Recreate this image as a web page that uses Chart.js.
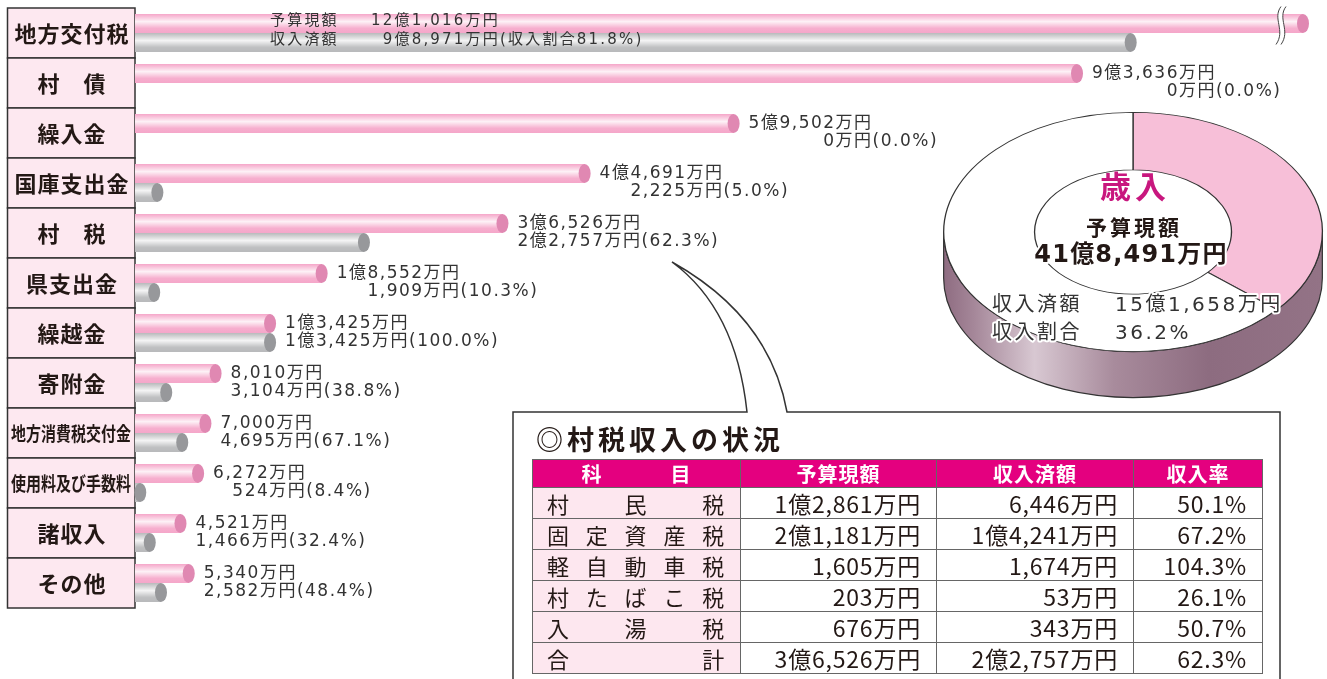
<!DOCTYPE html>
<html lang="ja">
<head>
<meta charset="utf-8">
<title>歳入</title>
<script src="https://cdn.jsdelivr.net/npm/chart.js@4.4.1/dist/chart.umd.min.js"></script>
<style>
  html, body { margin: 0; padding: 0; background: #fff; }
  body { width: 1327px; height: 679px; position: relative; overflow: hidden; font-family: "Noto Sans CJK JP", sans-serif; color: #333; }
  #bars { position: absolute; left: 0; top: 0; }
  #pie { position: absolute; left: 933px; top: 32px; }
  #frame { position: absolute; left: 0; top: 0; }
  #title { position: absolute; left: 536px; top: 419px; font-size: 27px; font-weight: bold; letter-spacing: 4px; color: #231815; }
  #tax { position: absolute; left: 532px; top: 459px; border-collapse: collapse; table-layout: fixed; font-size: 23px; }
  #tax th, #tax td { border: 1px solid #666; padding: 0 15px 0 0; height: 30px; line-height: 30px; text-align: right; white-space: nowrap; letter-spacing: 0.8px; }
  #tax th { background: #e4007f; color: #fff; font-weight: bold; text-align: center; height: 27px; line-height: 27px; padding: 0; font-size: 20px; letter-spacing: 1px; }
  #tax td { background: #fff; color: #231815; }
  #tax td.item { background: #fde7ef; text-align: left; padding: 0 0 0 14px; font-size: 22px; }
  #tax .spread { display: inline-block; width: 178px; text-align: justify; text-align-last: justify; }
  #tax th .spread { width: 110px; }
</style>
</head>
<body>
<canvas id="bars" width="1327" height="679"></canvas>
<svg id="frame" width="1327" height="679">
  <path d="M513,690 L513,412 L747,412 Q736,309 672,262 Q770,317 787,412 L1280,412 L1280,690"
        fill="none" stroke="#333" stroke-width="1.5"/>
</svg>
<canvas id="pie" width="400" height="400"></canvas>
<div id="title">◎村税収入の状況</div>
<table id="tax">
  <colgroup><col style="width:208px"><col style="width:196px"><col style="width:197px"><col style="width:129px"></colgroup>
  <thead></thead>
  <tbody></tbody>
</table>
<script>
// 歳入 (単位: 万円)
const categories = ['地方交付税', '村　債', '繰入金', '国庫支出金', '村　税', '県支出金', '繰越金', '寄附金', '地方消費税交付金', '使用料及び手数料', '諸収入', 'その他'];
const budget = [121016, 93636, 59502, 44691, 36526, 18552, 13425, 8010, 7000, 6272, 4521, 5340];
const received = [98971, 0, 0, 2225, 22757, 1909, 13425, 3104, 4695, 524, 1466, 2582];
const rates = ['81.8', '0.0', '0.0', '5.0', '62.3', '10.3', '100.0', '38.8', '67.1', '8.4', '32.4', '48.4'];
const xMax = 116100;

// 円グラフ
const totalBudget = 418491;
const totalReceived = 151658;
const totalRate = '36.2';

// 村税収入の状況
const taxHeaders = ['科目', '予算現額', '収入済額', '収入率'];
const taxItems = ['村民税', '固定資産税', '軽自動車税', '村たばこ税', '入湯税', '合計'];
const taxBudget = [12861, 21181, 1605, 203, 676, 36526];
const taxReceived = [6446, 14241, 1674, 53, 343, 22757];
const taxRates = ['50.1', '67.2', '104.3', '26.1', '50.7', '62.3'];

const fmtMan = v => {
    const oku = Math.floor(v / 10000);
    const man = v % 10000;
    if (oku > 0) return oku + '億' + (man > 0 ? man.toLocaleString('en-US') : '') + '万円';
    return man.toLocaleString('en-US') + '万円';
};

const numFont = '"DejaVu Sans", "Noto Sans CJK JP", sans-serif';

const barDeco = {
    id: 'barDeco',
    beforeDatasetsDraw(chart) {
        const ctx = chart.ctx;
        const ys = chart.scales.y;
        ctx.save();
        categories.forEach((c, i) => {
            const yc = ys.getPixelForValue(i);
            ctx.fillStyle = '#fde8f0';
            ctx.strokeStyle = '#333';
            ctx.lineWidth = 1.5;
            ctx.fillRect(7.5, yc - 25, 127.5, 50);
            ctx.strokeRect(7.5, yc - 25, 127.5, 50);
            ctx.fillStyle = '#231815';
            ctx.textAlign = 'center';
            ctx.textBaseline = 'middle';
            if (c.length > 6) {
                ctx.font = 'bold 19px "Noto Sans CJK JP"';
                ctx.letterSpacing = '0px';
                ctx.fillText(c, 71, yc + 1, 120);
            } else {
                ctx.font = 'bold 22px "Noto Sans CJK JP"';
                ctx.letterSpacing = '1px';
                ctx.fillText(c, 72, yc + 1);
            }
        });
        ctx.restore();
    },
    afterDatasetsDraw(chart) {
        const ctx = chart.ctx;
        const area = chart.chartArea;
        const caps = ['#e088b2', '#97989b'];
        ctx.save();
        [0, 1].forEach(d => {
            chart.getDatasetMeta(d).data.forEach((el, i) => {
                const v = chart.data.datasets[d].data[i];
                if (!v) return;
                const h = el.height;
                const top = el.y - h / 2;
                const xe = Math.min(el.x, area.right);
                const g = ctx.createLinearGradient(0, top, 0, top + h);
                g.addColorStop(0, 'rgba(255,255,255,0)');
                g.addColorStop(0.4, 'rgba(255,255,255,0.85)');
                g.addColorStop(0.75, 'rgba(255,255,255,0.1)');
                g.addColorStop(1, 'rgba(255,255,255,0)');
                ctx.fillStyle = g;
                ctx.fillRect(el.base, top, xe - el.base, h);
                ctx.fillStyle = caps[d];
                ctx.beginPath();
                ctx.ellipse(xe, el.y, 6, h / 2, 0, 0, Math.PI * 2);
                ctx.fill();
            });
        });

        // break mark on the clipped bar
        const p0 = chart.getDatasetMeta(0).data[0];
        if (budget[0] > xMax) {
            const bx = area.right - 25;
            const y0 = p0.y - 17, y1 = p0.y + 21;
            const wave = (dx) => {
                ctx.moveTo(bx + dx + 3, y0);
                ctx.bezierCurveTo(bx + dx - 6, y0 + 12, bx + dx + 8, y1 - 14, bx + dx - 2, y1);
            };
            ctx.beginPath();
            ctx.moveTo(bx + 3, y0);
            ctx.bezierCurveTo(bx - 6, y0 + 12, bx + 8, y1 - 14, bx - 2, y1);
            ctx.lineTo(bx + 3, y1);
            ctx.bezierCurveTo(bx + 13, y1 - 14, bx - 1, y0 + 12, bx + 8, y0);
            ctx.closePath();
            ctx.fillStyle = '#fff';
            ctx.fill();
            ctx.beginPath();
            wave(0);
            wave(5);
            ctx.strokeStyle = '#444';
            ctx.lineWidth = 1;
            ctx.stroke();
        }

        // value labels
        const pm = chart.getDatasetMeta(0).data;
        const gm = chart.getDatasetMeta(1).data;
        ctx.fillStyle = '#333';
        ctx.textBaseline = 'middle';
        ctx.font = '15px ' + numFont;
        ctx.letterSpacing = '2.2px';
        // 1行目は棒の上に書く
        const lx = area.left + 135, rx = area.left + 365;
        ctx.textAlign = 'left';
        ctx.fillText('予算現額', lx, pm[0].y - 2);
        ctx.fillText('収入済額', lx, gm[0].y - 2);
        ctx.textAlign = 'right';
        ctx.fillText(fmtMan(budget[0]), rx, pm[0].y - 2);
        ctx.fillText(fmtMan(received[0]), rx, gm[0].y - 2);
        ctx.textAlign = 'left';
        ctx.fillText('(収入割合' + rates[0] + '%)', rx, gm[0].y - 2);

        ctx.font = '17px ' + numFont;
        ctx.letterSpacing = '1.5px';
        for (let i = 1; i < categories.length; i++) {
            const x0 = Math.max(pm[i].x, gm[i].x) + 15;
            const t1 = fmtMan(budget[i]);
            const w1 = ctx.measureText(t1).width;
            ctx.textAlign = 'left';
            ctx.fillText(t1, x0, pm[i].y);
            ctx.textAlign = 'right';
            ctx.fillText(fmtMan(received[i]), x0 + w1, gm[i].y - 1);
            ctx.textAlign = 'left';
            ctx.fillText('(' + rates[i] + '%)', x0 + w1, gm[i].y - 1);
        }
        ctx.restore();
    }
};

new Chart(document.getElementById('bars'), {
    type: 'bar',
    data: {
        labels: categories,
        datasets: [
            { label: '予算現額', data: budget, backgroundColor: '#f5a6c9', borderWidth: 0, categoryPercentage: 0.76, barPercentage: 1, clip: 0 },
            { label: '収入済額', data: received, backgroundColor: '#b8b9bb', borderWidth: 0, categoryPercentage: 0.76, barPercentage: 1, clip: 0 }
        ]
    },
    options: {
        indexAxis: 'y',
        responsive: false,
        animation: false,
        events: [],
        layout: { padding: { left: 7, top: 8, right: 24, bottom: 71 } },
        scales: {
            x: { display: false, min: 0, max: xMax },
            y: {
                grid: { display: false },
                border: { display: false },
                ticks: { display: false },
                afterFit: s => { s.width = 128; }
            }
        },
        plugins: { legend: { display: false }, tooltip: { enabled: false } }
    },
    plugins: [barDeco]
});

// 円グラフ (楕円に潰して側面を付ける)
const squash = 120 / 190;
const depth = 46;
const pieDeco = {
    id: 'pieDeco',
    beforeDatasetsDraw(chart) {
        const ctx = chart.ctx;
        const a = chart.chartArea;
        const cx = (a.left + a.right) / 2, cy = (a.top + a.bottom) / 2;
        const r = chart.getDatasetMeta(0).data[0].outerRadius;
        const ry = r * squash;
        const g = ctx.createLinearGradient(cx - r, 0, cx + r, 0);
        g.addColorStop(0, '#8e6c81');
        g.addColorStop(0.08, '#a58799');
        g.addColorStop(0.24, '#d8c8d2');
        g.addColorStop(0.45, '#a88b9c');
        g.addColorStop(0.7, '#8d6c80');
        g.addColorStop(1, '#937386');
        ctx.save();
        ctx.beginPath();
        ctx.ellipse(cx, cy + depth, r, ry, 0, 0, Math.PI);
        ctx.lineTo(cx - r, cy);
        ctx.ellipse(cx, cy, r, ry, 0, Math.PI, 0, true);
        ctx.closePath();
        ctx.fillStyle = g;
        ctx.fill();
        ctx.strokeStyle = '#333';
        ctx.lineWidth = 1.2;
        ctx.stroke();
        ctx.restore();
        ctx.save();
        ctx.translate(cx, cy);
        ctx.scale(1, squash);
        ctx.translate(-cx, -cy);
    },
    afterDatasetsDraw(chart) {
        chart.ctx.restore();
    },
    afterDraw(chart) {
        const ctx = chart.ctx;
        const a = chart.chartArea;
        const cx = (a.left + a.right) / 2, cy = (a.top + a.bottom) / 2;
        ctx.save();
        ctx.textBaseline = 'middle';
        ctx.textAlign = 'center';
        ctx.fillStyle = '#c8177e';
        ctx.font = 'bold 31px "Noto Sans CJK JP"';
        ctx.letterSpacing = '4px';
        ctx.fillText('歳入', cx + 2, cy - 46);
        ctx.fillStyle = '#231815';
        ctx.font = 'bold 21px "Noto Sans CJK JP"';
        ctx.letterSpacing = '3px';
        ctx.fillText('予算現額', cx + 1, cy - 5);
        ctx.font = 'bold 24px ' + numFont;
        ctx.letterSpacing = '1.2px';
        ctx.lineWidth = 4;
        ctx.strokeStyle = '#fff';
        ctx.lineJoin = 'round';
        ctx.strokeText(fmtMan(totalBudget), cx - 2, cy + 24);
        ctx.fillText(fmtMan(totalBudget), cx - 2, cy + 24);

        ctx.font = '20px ' + numFont;
        ctx.letterSpacing = '2.5px';
        ctx.fillStyle = '#333';
        const rows = [['収入済額', fmtMan(totalReceived), 74], ['収入割合', totalRate + '%', 102]];
        rows.forEach(([k, v, dy]) => {
            ctx.textAlign = 'left';
            ctx.strokeText(k, cx - 141, cy + dy);
            ctx.fillText(k, cx - 141, cy + dy);
            ctx.strokeText(v, cx - 18, cy + dy);
            ctx.fillText(v, cx - 18, cy + dy);
        });
        ctx.restore();
    }
};

new Chart(document.getElementById('pie'), {
    type: 'doughnut',
    data: {
        labels: ['収入済額', '未収入'],
        datasets: [{
            data: [totalReceived, totalBudget - totalReceived],
            backgroundColor: ['#f7bfd8', '#ffffff'],
            borderColor: '#333',
            borderWidth: 1.3,
            hoverOffset: 0
        }]
    },
    options: {
        responsive: false,
        animation: false,
        events: [],
        cutout: '52%',
        layout: { padding: 10 },
        plugins: { legend: { display: false }, tooltip: { enabled: false } }
    },
    plugins: [pieDeco]
});

// 表
const thead = document.querySelector('#tax thead');
const tbody = document.querySelector('#tax tbody');
thead.innerHTML = '<tr>' + taxHeaders.map((h, i) =>
    i === 0 ? '<th><span class="spread">' + h + '</span></th>' : '<th>' + h + '</th>').join('') + '</tr>';
taxItems.forEach((item, i) => {
    const tr = document.createElement('tr');
    tr.innerHTML = '<td class="item"><span class="spread">' + item + '</span></td>' +
        '<td>' + fmtMan(taxBudget[i]) + '</td>' +
        '<td>' + fmtMan(taxReceived[i]) + '</td>' +
        '<td>' + taxRates[i] + '%</td>';
    tbody.appendChild(tr);
});
</script>
</body>
</html>
